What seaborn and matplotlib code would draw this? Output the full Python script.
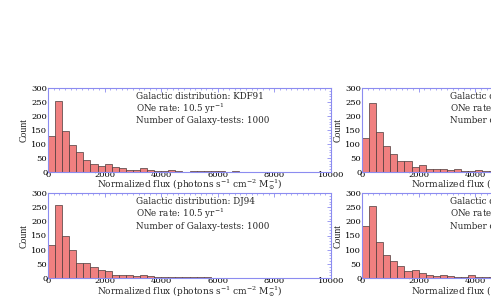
import numpy as np
import pandas as pd
import matplotlib
matplotlib.use("Agg")
import matplotlib.pyplot as plt
import seaborn as sns
from matplotlib.ticker import MultipleLocator

sns.set_style("white")
plt.rcParams['font.family'] = ['DejaVu Serif']
plt.rcParams['mathtext.fontset'] = 'dejavuserif'

bin_width = 250
# counts per 250-wide flux bin
kdf91_left = [127, 255, 145, 97, 70, 42, 27, 21, 30, 18, 14, 8, 7, 15, 7, 5,
              5, 6, 3, 0, 2, 5, 3, 5, 2, 0, 3, 1, 0, 0, 0, 0, 0, 0, 1, 0,
              0, 0, 0, 0]
dj94_left = [116, 259, 149, 99, 52, 53, 38, 27, 23, 12, 12, 9, 8, 12, 7, 5,
             3, 5, 2, 2, 2, 2, 2, 1, 1, 1, 1, 0, 0, 1, 0, 0, 0, 0, 0, 0,
             0, 0, 0, 0]
kdf91_right = [121, 246, 143, 92, 64, 40, 38, 17, 24, 10, 10, 12, 8, 10, 5, 5,
               7, 5, 3, 2, 2, 1, 1, 1, 0, 1, 0, 0, 0, 0, 0, 0, 0, 0, 0, 0,
               0, 0, 0, 0]
dj94_right = [185, 253, 127, 80, 59, 42, 23, 27, 19, 12, 8, 12, 8, 5, 5, 10,
              4, 3, 2, 2, 1, 1, 1, 0, 1, 0, 0, 0, 0, 0, 0, 0, 0, 0, 0, 0,
              0, 0, 0, 0]

panels = [
    ("KDF91", kdf91_left, [48/491, 128/300, 283/491, 84/300]),
    ("DJ94", dj94_left, [48/491, 22/300, 283/491, 85/300]),
    ("KDF91", kdf91_right, [362/491, 128/300, 283/491, 84/300]),
    ("DJ94", dj94_right, [362/491, 22/300, 283/491, 85/300]),
]

fig = plt.figure(figsize=(4.91, 3.0), dpi=100)
centers = np.arange(len(kdf91_left)) * bin_width + bin_width / 2
frame = '#8c8cf0'

for model, counts, rect in panels:
    ax = fig.add_axes(rect)
    df = pd.DataFrame({'flux': centers, 'n': counts})
    sns.histplot(data=df, x='flux', weights='n', binwidth=bin_width,
                 binrange=(0, 10000), ax=ax,
                 color='#f08080', alpha=1, edgecolor='#4a3a3a', linewidth=0.5)
    ax.set_xlim(0, 10000)
    ax.set_ylim(0, 300)
    ax.xaxis.set_major_locator(MultipleLocator(2000))
    ax.xaxis.set_minor_locator(MultipleLocator(200))
    ax.yaxis.set_major_locator(MultipleLocator(50))
    ax.yaxis.set_minor_locator(MultipleLocator(10))
    ax.tick_params(which='both', direction='in', top=True, right=True,
                   colors=frame, labelcolor='black', labelsize=6, pad=0.5)
    ax.tick_params(axis='x', which='both', pad=-0.5)
    ax.tick_params(which='major', length=3, width=0.6)
    ax.tick_params(which='minor', length=1.2, width=0.5)
    for s in ax.spines.values():
        s.set_color(frame)
        s.set_linewidth(0.8)
    ax.set_xlabel('Normalized flux (photons s$^{-1}$ cm$^{-2}$ M$_{\\odot}^{-1}$)',
                  fontsize=6.5, va='center')
    ax.xaxis.set_label_coords(0.5, -0.155)
    ax.set_ylabel('Count', fontsize=7, family='Liberation Serif',
                  fontstretch='condensed')
    ax.yaxis.set_label_coords(-0.07, 0.5)
    ax.text(0.31, 0.9, 'Galactic distribution: ' + model, transform=ax.transAxes,
            fontsize=6.3, va='center')
    ax.text(0.31, 0.75, 'ONe rate: 10.5 yr$^{-1}$', transform=ax.transAxes,
            fontsize=6.3, va='center')
    ax.text(0.31, 0.61, 'Number of Galaxy-tests: 1000', transform=ax.transAxes,
            fontsize=6.3, va='center')

fig.savefig('out.png', dpi=100)
